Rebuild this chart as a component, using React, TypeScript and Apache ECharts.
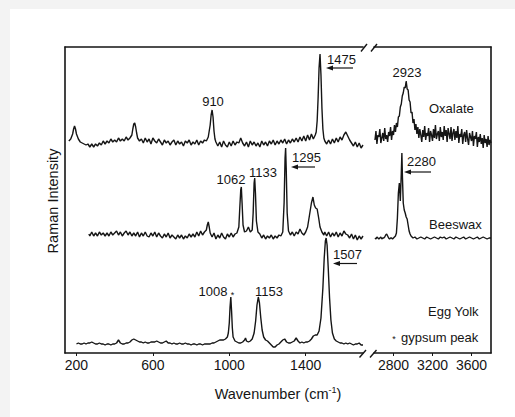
import React, { useEffect, useRef } from "react";
import * as echarts from "echarts";

// ---- data (wavenumber, relative intensity) ----
const leftTicks = [200, 600, 1000, 1400];
const rightTicks = [2800, 3200, 3600];

const oxalateLeft: [number, number][] = [
  [160, 212], [170, 214], [180, 219], [185, 224], [190, 227], [195, 224], [200, 219], [210, 214], [220, 211], [230, 210],
  [240, 209], [250, 208], [260, 209], [270, 206], [280, 209], [290, 206], [300, 209], [310, 207], [320, 210], [330, 208],
  [340, 212], [350, 209], [360, 212], [370, 210], [380, 214], [390, 211], [400, 213], [410, 211], [420, 215], [430, 212],
  [440, 214], [450, 212], [460, 216], [470, 213], [480, 215], [490, 218], [495, 224], [500, 229], [505, 230], [510, 226],
  [515, 220], [520, 215], [530, 212], [540, 214], [550, 210], [560, 215], [570, 211], [580, 214], [590, 209], [600, 215],
  [610, 212], [620, 210], [630, 214], [640, 211], [650, 208], [660, 213], [670, 210], [680, 212], [690, 208], [700, 211],
  [710, 213], [720, 208], [730, 212], [740, 209], [750, 211], [760, 207], [770, 212], [780, 210], [790, 213], [800, 208],
  [810, 211], [820, 209], [830, 213], [840, 208], [850, 212], [860, 210], [870, 213], [880, 212], [890, 216], [900, 228],
  [905, 238], [910, 243], [915, 236], [920, 222], [925, 214], [930, 211], [940, 207], [950, 211], [960, 206], [970, 212],
  [980, 208], [990, 206], [1000, 211], [1010, 207], [1020, 212], [1030, 208], [1040, 211], [1050, 210], [1060, 215], [1070, 210],
  [1080, 207], [1090, 211], [1100, 206], [1110, 212], [1120, 208], [1130, 211], [1140, 207], [1150, 210], [1160, 206], [1170, 212],
  [1180, 208], [1190, 211], [1200, 207], [1210, 212], [1220, 209], [1230, 213], [1240, 208], [1250, 212], [1260, 209], [1270, 213],
  [1280, 210], [1290, 214], [1300, 209], [1310, 213], [1320, 210], [1330, 214], [1340, 211], [1350, 215], [1360, 211], [1370, 216],
  [1380, 212], [1390, 217], [1400, 212], [1410, 218], [1420, 213], [1430, 219], [1440, 214], [1450, 218], [1455, 221], [1460, 232],
  [1465, 255], [1470, 285], [1475, 299], [1480, 278], [1485, 245], [1490, 224], [1495, 215], [1500, 212], [1510, 209], [1520, 213],
  [1530, 209], [1540, 214], [1550, 210], [1560, 215], [1570, 211], [1580, 216], [1590, 213], [1600, 218], [1610, 221], [1620, 217],
  [1630, 213], [1640, 210], [1650, 207], [1660, 211], [1670, 206], [1680, 210], [1690, 205], [1700, 208],
];

const oxalateRight: [number, number][] = [
  [2610, 213], [2620, 222], [2630, 209], [2640, 218], [2650, 216], [2660, 224], [2670, 210], [2680, 215], [2690, 220], [2700, 212],
  [2710, 225], [2720, 214], [2730, 218], [2740, 211], [2750, 221], [2760, 217], [2770, 226], [2780, 213], [2790, 222], [2800, 218],
  [2810, 228], [2820, 221], [2830, 230], [2840, 226], [2850, 236], [2860, 237], [2870, 246], [2880, 249], [2890, 257], [2900, 260],
  [2910, 266], [2920, 265], [2930, 272], [2940, 264], [2950, 263], [2960, 253], [2970, 251], [2980, 240], [2990, 241], [3000, 230],
  [3010, 234], [3020, 223], [3030, 229], [3040, 219], [3050, 226], [3060, 215], [3070, 224], [3080, 218], [3090, 211], [3100, 223],
  [3110, 216], [3120, 227], [3130, 213], [3140, 220], [3150, 217], [3160, 225], [3170, 211], [3180, 222], [3190, 218], [3200, 212],
  [3210, 224], [3220, 215], [3230, 228], [3240, 214], [3250, 219], [3260, 222], [3270, 212], [3280, 226], [3290, 216], [3300, 221],
  [3310, 213], [3320, 227], [3330, 217], [3340, 223], [3350, 211], [3360, 225], [3370, 219], [3380, 214], [3390, 226], [3400, 212],
  [3410, 220], [3420, 224], [3430, 213], [3440, 222], [3450, 215], [3460, 227], [3470, 210], [3480, 219], [3490, 216], [3500, 224],
  [3510, 209], [3520, 218], [3530, 221], [3540, 211], [3550, 223], [3560, 214], [3570, 208], [3580, 220], [3590, 216], [3600, 212],
  [3610, 222], [3620, 207], [3630, 217], [3640, 214], [3650, 221], [3660, 206], [3670, 216], [3680, 211], [3690, 219], [3700, 209],
  [3710, 215], [3720, 205], [3730, 218], [3740, 210], [3750, 214], [3760, 206], [3770, 217], [3780, 208], [3790, 213], [3800, 210],
];

const beeswaxLeft: [number, number][] = [
  [265, 119], [270, 117], [280, 121], [290, 117], [300, 120], [310, 117], [320, 121], [330, 118], [340, 120], [350, 117],
  [360, 120], [370, 117], [380, 121], [390, 118], [400, 120], [410, 122], [420, 118], [430, 121], [440, 117], [450, 120],
  [460, 122], [470, 118], [480, 121], [490, 117], [500, 120], [510, 117], [520, 121], [530, 116], [540, 120], [550, 117],
  [560, 121], [570, 117], [580, 116], [590, 120], [600, 117], [610, 121], [620, 116], [630, 120], [640, 117], [650, 115],
  [660, 119], [670, 116], [680, 120], [690, 115], [700, 118], [710, 116], [720, 114], [730, 118], [740, 115], [750, 118],
  [760, 114], [770, 117], [780, 115], [790, 119], [800, 116], [810, 119], [820, 116], [830, 121], [840, 117], [850, 122],
  [860, 118], [870, 121], [880, 123], [885, 128], [890, 131], [895, 126], [900, 120], [910, 116], [920, 120], [930, 114],
  [940, 118], [950, 115], [960, 120], [970, 116], [980, 114], [990, 119], [1000, 116], [1010, 120], [1020, 116], [1030, 119],
  [1040, 120], [1050, 126], [1055, 145], [1060, 163], [1063, 166], [1067, 150], [1072, 128], [1080, 121], [1090, 122], [1100, 126],
  [1110, 121], [1120, 123], [1125, 140], [1130, 170], [1133, 175], [1137, 160], [1142, 132], [1150, 121], [1160, 119], [1170, 115],
  [1180, 118], [1190, 114], [1200, 117], [1210, 115], [1220, 118], [1230, 114], [1240, 117], [1250, 115], [1260, 118], [1270, 117],
  [1280, 121], [1287, 150], [1292, 195], [1295, 205], [1298, 185], [1303, 140], [1310, 122], [1320, 118], [1330, 121], [1340, 117],
  [1350, 121], [1360, 119], [1370, 124], [1380, 120], [1390, 118], [1400, 121], [1410, 126], [1420, 138], [1430, 150], [1438, 156],
  [1445, 148], [1452, 145], [1460, 144], [1468, 135], [1475, 126], [1485, 121], [1495, 118], [1500, 121], [1510, 117], [1520, 121],
  [1530, 116], [1540, 120], [1550, 117], [1560, 121], [1570, 116], [1580, 120], [1590, 117], [1600, 122], [1610, 119], [1620, 118],
  [1630, 115], [1640, 119], [1650, 114], [1660, 118], [1670, 113], [1680, 117], [1690, 114], [1700, 117],
];

const beeswaxRight: [number, number][] = [
  [2610, 115], [2620, 114], [2630, 116], [2640, 115], [2650, 114], [2660, 115], [2670, 116], [2680, 114], [2690, 115], [2700, 115],
  [2710, 116], [2720, 118], [2730, 119], [2740, 117], [2750, 115], [2760, 114], [2770, 115], [2780, 115], [2790, 114], [2800, 115],
  [2810, 116], [2820, 117], [2830, 120], [2840, 135], [2850, 160], [2860, 170], [2870, 152], [2880, 180], [2886, 200], [2892, 175],
  [2900, 150], [2910, 143], [2920, 140], [2930, 136], [2940, 134], [2950, 128], [2960, 122], [2970, 119], [2980, 117], [2990, 116],
  [3000, 115], [3020, 116], [3040, 114], [3060, 115], [3080, 116], [3100, 115], [3120, 114], [3140, 116], [3160, 115], [3180, 114],
  [3200, 115], [3220, 116], [3240, 115], [3260, 114], [3280, 116], [3300, 115], [3320, 116], [3340, 114], [3360, 115], [3380, 116],
  [3400, 115], [3420, 114], [3440, 116], [3460, 115], [3480, 114], [3500, 115], [3520, 116], [3540, 114], [3560, 115], [3580, 116],
  [3600, 115], [3620, 114], [3640, 115], [3660, 116], [3680, 114], [3700, 115], [3720, 116], [3740, 115], [3760, 114], [3780, 115],
  [3800, 115],
];

const eggYolkLeft: [number, number][] = [
  [200, 9], [210, 10], [220, 9], [230, 9], [240, 10], [250, 9], [260, 10], [270, 10], [280, 11], [290, 10],
  [300, 9], [310, 9], [320, 10], [330, 9], [340, 9], [350, 8], [360, 9], [370, 9], [380, 8], [390, 9],
  [400, 9], [410, 10], [420, 13], [430, 10], [440, 9], [450, 9], [460, 10], [470, 10], [480, 11], [490, 13],
  [500, 14], [510, 13], [520, 12], [530, 11], [540, 11], [550, 10], [560, 11], [570, 10], [580, 10], [590, 11],
  [600, 11], [610, 11], [620, 12], [630, 11], [640, 10], [650, 10], [660, 11], [670, 12], [680, 10], [690, 10],
  [700, 9], [710, 10], [720, 9], [730, 9], [740, 10], [750, 9], [760, 9], [770, 10], [780, 9], [790, 9],
  [800, 8], [810, 9], [820, 9], [830, 8], [840, 9], [850, 9], [860, 8], [870, 9], [880, 9], [890, 9],
  [900, 9], [910, 10], [920, 10], [930, 11], [940, 12], [950, 13], [960, 13], [970, 13], [980, 14], [990, 16],
  [995, 20], [1000, 30], [1004, 46], [1008, 56], [1012, 42], [1016, 25], [1020, 16], [1030, 12], [1040, 11], [1050, 10],
  [1060, 10], [1070, 11], [1080, 13], [1085, 15], [1090, 12], [1100, 11], [1110, 12], [1120, 14], [1130, 20], [1138, 32],
  [1145, 48], [1152, 56], [1158, 50], [1165, 35], [1172, 23], [1180, 16], [1190, 13], [1200, 12], [1210, 10], [1220, 8],
  [1230, 6], [1240, 6], [1250, 8], [1260, 9], [1270, 11], [1280, 13], [1290, 14], [1300, 11], [1310, 10], [1320, 10],
  [1330, 11], [1340, 12], [1350, 15], [1360, 12], [1370, 10], [1380, 11], [1390, 10], [1400, 11], [1410, 11], [1420, 12],
  [1430, 14], [1440, 17], [1450, 18], [1460, 18], [1470, 22], [1480, 35], [1490, 65], [1497, 95], [1503, 112], [1507, 115],
  [1512, 108], [1518, 85], [1525, 55], [1532, 33], [1540, 20], [1550, 14], [1560, 12], [1570, 11], [1580, 10], [1590, 10],
  [1600, 9], [1610, 10], [1620, 9], [1630, 10], [1640, 9], [1650, 8], [1660, 9], [1670, 9], [1680, 10], [1690, 8],
  [1700, 8],
];

const FONT = "'Liberation Sans', Arial, Helvetica, sans-serif";
const INK = "#151515";

function txt(text: string, x: number, y: number, size = 13, align = "center", extra: any = {}) {
  return {
    type: "text",
    x,
    y,
    silent: true,
    style: {
      text,
      fill: INK,
      fontSize: size,
      fontFamily: FONT,
      align,
      textAlign: align,
      verticalAlign: "middle",
      textVerticalAlign: "middle",
      ...extra,
    },
  };
}

function arrow(x1: number, x2: number, y: number) {
  return [
    { type: "line", silent: true, shape: { x1, y1: y, x2: x2 + 4, y2: y }, style: { stroke: INK, lineWidth: 1.2 } },
    {
      type: "polygon",
      silent: true,
      shape: { points: [[x2, y], [x2 + 7, y - 2.6], [x2 + 7, y + 2.6]] },
      style: { fill: INK },
    },
  ];
}

function slash(x1: number, y1: number, x2: number, y2: number) {
  return { type: "line", silent: true, shape: { x1, y1, x2, y2 }, style: { stroke: INK, lineWidth: 1.4 } };
}

export default function App() {
  const ref = useRef<HTMLDivElement>(null);

  useEffect(() => {
    document.body.style.margin = "0";
    if (!ref.current) return;
    const chart = echarts.init(ref.current, undefined, { renderer: "svg" });

    const axisLine = { show: true, onZero: false, lineStyle: { color: INK, width: 1.6 } };
    const hiddenX = (gridIndex: number, min: number, max: number) => ({
      type: "value",
      gridIndex,
      position: "top",
      min,
      max,
      axisLine,
      axisTick: { show: false },
      axisLabel: { show: false },
      splitLine: { show: false },
    });
    const bottomX = (gridIndex: number, min: number, max: number, ticks: number[]) => ({
      type: "value",
      gridIndex,
      position: "bottom",
      min,
      max,
      axisLine,
      axisTick: { show: true, length: 3, customValues: ticks, lineStyle: { color: INK, width: 1 } },
      axisLabel: {
        customValues: ticks,
        fontSize: 14,
        fontFamily: FONT,
        color: INK,
        margin: 5,
        formatter: (v: number) => String(Math.round(v)),
      },
      splitLine: { show: false },
    });
    const yAx = (gridIndex: number, position: string) => ({
      type: "value",
      gridIndex,
      position,
      min: 0,
      max: 306,
      axisLine,
      axisTick: { show: false },
      axisLabel: { show: false },
      splitLine: { show: false },
    });

    const lineSeries = (data: [number, number][], xi: number, yi: number) => ({
      type: "line",
      data,
      xAxisIndex: xi,
      yAxisIndex: yi,
      showSymbol: false,
      symbol: "none",
      lineStyle: { color: INK, width: 1.4 },
      silent: true,
    });

    const yTitle: any = txt("Raman Intensity", 53, 201, 14.5, "center", {});
    yTitle.rotation = Math.PI / 2;

    const graphics: any[] = [
      yTitle,
      {
        type: "text",
        x: 278,
        y: 394,
        silent: true,
        style: {
          text: "Wavenumber (cm{sup|-1})",
          fill: INK,
          fontSize: 14.5,
          fontFamily: FONT,
          align: "center",
          textAlign: "center",
          verticalAlign: "middle",
          textVerticalAlign: "middle",
          rich: { sup: { fontSize: 9, fontFamily: FONT, fill: INK, verticalAlign: "top", padding: [0, 0, 8, 0] } },
        },
      },
      txt("1475", 327, 59, 13, "left"),
      txt("910", 213, 101),
      txt("2923", 407, 72),
      txt("Oxalate", 429, 108, 13, "left"),
      txt("1295", 292, 157, 13, "left"),
      txt("1062", 231, 179),
      txt("1133", 263, 172),
      txt("2280", 407, 161, 13, "left"),
      txt("Beeswax", 429, 224, 13, "left"),
      txt("1507", 333, 254, 13, "left"),
      txt("1008", 213, 291),
      txt("*", 232.5, 295, 9),
      txt("1153", 269, 291),
      txt("Egg Yolk", 428, 311, 13, "left"),
      txt("*", 394, 339, 9),
      txt("gypsum peak", 401, 337, 13, "left"),
      ...arrow(353, 326, 68),
      ...arrow(315, 291, 167),
      ...arrow(431, 404, 172),
      ...arrow(357, 333, 263.5),
      slash(361, 51.5, 367, 44),
      slash(371, 51.5, 377, 44),
      slash(359.5, 357.5, 366, 350),
      slash(370, 357.5, 376.5, 350),
    ];

    chart.setOption({
      animation: false,
      backgroundColor: "transparent",
      grid: [
        { left: 65, top: 47, width: 298, height: 306 },
        { left: 374, top: 47, width: 117, height: 306 },
      ],
      xAxis: [
        bottomX(0, 140, 1700, leftTicks),
        hiddenX(0, 140, 1700),
        bottomX(1, 2600, 3800, rightTicks),
        hiddenX(1, 2600, 3800),
      ],
      yAxis: [yAx(0, "left"), yAx(1, "right")],
      series: [
        lineSeries(oxalateLeft, 0, 0),
        lineSeries(beeswaxLeft, 0, 0),
        lineSeries(eggYolkLeft, 0, 0),
        lineSeries(oxalateRight, 2, 1),
        lineSeries(beeswaxRight, 2, 1),
      ],
      graphic: graphics,
    });

    return () => chart.dispose();
  }, []);

  return (
    <div style={{ position: "relative", width: 515, height: 417, background: "#f3f3f3", overflow: "hidden" }}>
      <div style={{ position: "absolute", left: 10, top: 9, width: 505, height: 408, background: "#ffffff" }} />
      <div ref={ref} style={{ position: "absolute", left: 0, top: 0, width: 515, height: 417 }} />
    </div>
  );
}
